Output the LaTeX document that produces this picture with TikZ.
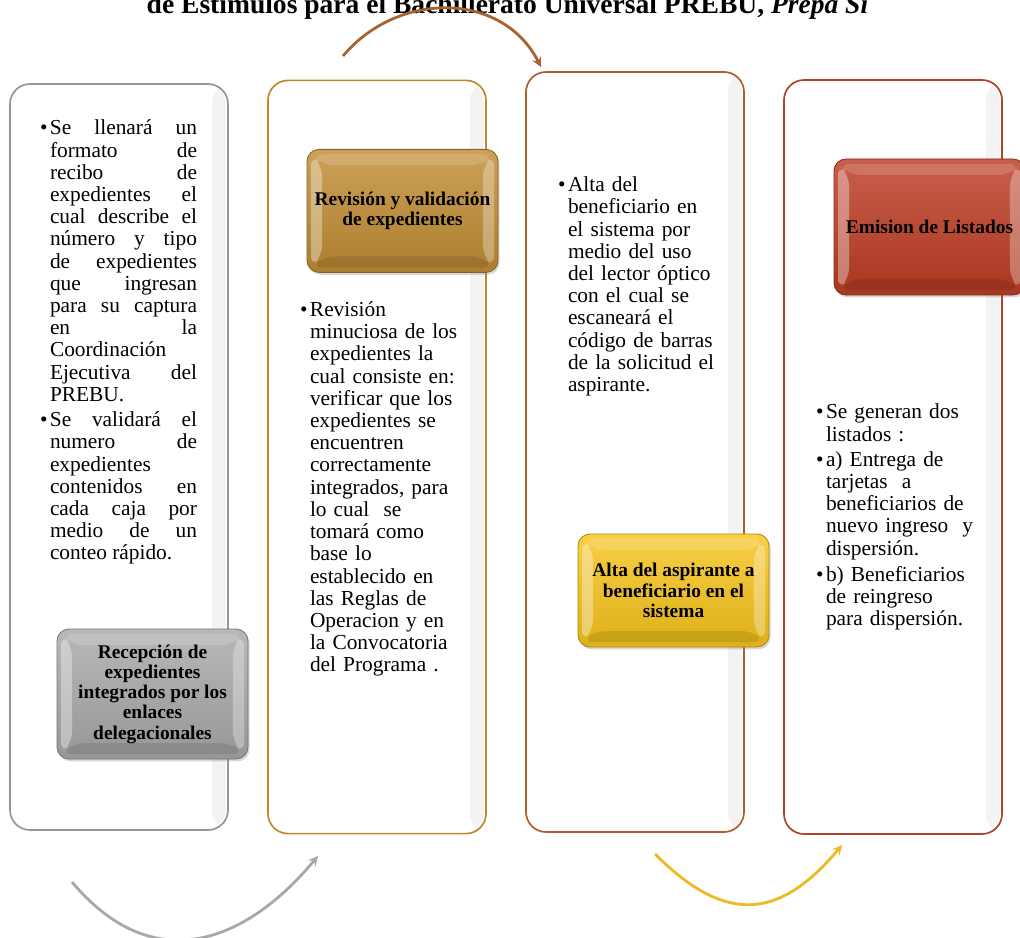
\documentclass[tikz,border=0pt]{standalone}
\usepackage{fontspec}
\setmainfont{Liberation Serif}
\usepackage{graphicx}
\usetikzlibrary{positioning,calc,shadows}
\definecolor{prebugray}{RGB}{150,150,150}
\definecolor{prebugold}{RGB}{188,138,45}
\definecolor{prebubrown}{RGB}{172,95,45}
\definecolor{prebured}{RGB}{172,68,42}
\definecolor{taggray}{RGB}{168,168,168}
\definecolor{taggold}{RGB}{192,140,52}
\definecolor{tagyellow}{RGB}{246,196,28}
\definecolor{tagred}{RGB}{188,60,36}
\definecolor{arrowbrown}{RGB}{165,100,50}
\definecolor{arrowgray}{RGB}{168,168,168}
\definecolor{arrowyellow}{RGB}{236,186,36}
\newcommand{\itm}{\noindent\llap{\textbullet\hspace{0.06cm}}}
\newcommand{\bevel}{%
  \coordinate (bsw) at (path picture bounding box.south west);
  \coordinate (bne) at (path picture bounding box.north east);
  \fill[white, opacity=0.35] ($(bsw)+(0.1,0.12)$) -- ($(bsw|-bne)+(0.1,-0.12)$) -- ($(bsw|-bne)+(0.38,-0.4)$) -- ($(bsw)+(0.38,0.4)$) -- cycle;
  \fill[white, opacity=0.3] ($(bne|-bsw)+(-0.1,0.12)$) -- ($(bne)+(-0.1,-0.12)$) -- ($(bne)+(-0.38,-0.4)$) -- ($(bne|-bsw)+(-0.38,0.4)$) -- cycle;
  \fill[white, opacity=0.15] ($(bsw|-bne)+(0.1,-0.12)$) -- ($(bne)+(-0.1,-0.12)$) -- ($(bne)+(-0.38,-0.4)$) -- ($(bsw|-bne)+(0.38,-0.4)$) -- cycle;
  \fill[black, opacity=0.1] ($(bsw)+(0.1,0.12)$) -- ($(bne|-bsw)+(-0.1,0.12)$) -- ($(bne|-bsw)+(-0.38,0.4)$) -- ($(bsw)+(0.38,0.4)$) -- cycle;}
\tolerance=10000
\hbadness=10000
\hyphenpenalty=10000

\begin{document}
\begin{tikzpicture}[
  panel/.style={rectangle, rounded corners=0.5cm, draw=#1, line width=1.2pt, fill=white,
               minimum width=5.45cm, outer sep=0pt,
               path picture={\shade[left color=white, right color=black!5]
                 ([xshift=-0.4cm]path picture bounding box.south east) rectangle
                 ([xshift=-0.06cm]path picture bounding box.north east);}},
  badge/.style={rectangle, rounded corners=0.3cm, draw=#1!70!black, line width=0.6pt,
               top color=#1!82!white, bottom color=#1!90!black, minimum width=4.775cm,
               align=center, outer sep=0pt, inner sep=2pt,
               font=\fontsize{13.8}{14.4}\selectfont\bfseries,
               drop shadow={opacity=0.3, shadow xshift=0.04cm, shadow yshift=-0.06cm},
               path picture={\bevel}},
  note/.style={anchor=north west, inner sep=0pt, outer sep=0pt, text width=#1,
               font=\fontsize{15.2}{15.8}\selectfont},
  flow/.style={draw=#1, line width=2pt, -stealth}
]
\useasboundingbox (0,0) rectangle (25.5,-23.45);
\clip (0,0) rectangle (25.5,-23.45);

\node[anchor=base] (title) at (12.71,-0.35)
  {\resizebox{18.08cm}{!}{\bfseries de Estímulos para el Bachillerato Universal PREBU, \textit{Prepa Sí}}};

% columns
\node[panel=prebugray, minimum height=18.65cm] (rec) at (2.975,-11.425) {};
\node[panel=prebugold, minimum height=18.83cm, right=1cm of rec] (rev) {};
\node[panel=prebubrown, minimum height=19cm, right=1cm of rev, yshift=0.125cm] (alta) {};
\node[panel=prebured, minimum height=18.85cm, right=1cm of alta, yshift=-0.125cm] (emi) {};

% texts
\node[note=3.675cm, align=justify, below right=0.9cm and 1.0cm of rec.north west] (recnote)
  {\itm Se llenará un\linebreak formato de\linebreak recibo de\linebreak expedientes el\linebreak
   cual describe el\linebreak número y tipo\linebreak de expedientes\linebreak que ingresan\linebreak
   para su captura\linebreak en la\linebreak Coordinación\linebreak Ejecutiva del\linebreak PREBU.\\[0.075cm]
   \itm Se validará el\linebreak numero de\linebreak expedientes\linebreak contenidos en\linebreak
   cada caja por\linebreak medio de un\linebreak conteo rápido.};
\node[note=4.3cm, align=left, below right=5.53cm and 1.05cm of rev.north west] (revnote)
  {\itm Revisión\\ minuciosa de los\\ expedientes la\\ cual consiste en:\\ verificar que los\\
   expedientes se\\ encuentren\\ correctamente\\ integrados, para\\ lo cual\ \ se\\ tomará como\\
   base lo\\ establecido en\\ las Reglas de\\ Operacion y en\\ la Convocatoria\\ del Programa .};
\node[note=4.3cm, align=left, below right=2.62cm and 1.05cm of alta.north west] (altanote)
  {\itm Alta del\\ beneficiario en\\ el sistema por\\ medio del uso\\ del lector óptico\\
   con el cual se\\ escaneará el\\ código de barras\\ de la solicitud el\\ aspirante.};
\node[note=4.3cm, align=left, below right=8.1cm and 1.05cm of emi.north west] (eminote)
  {\itm Se generan dos\\ listados :\\[0.075cm]
   \itm a) Entrega de\\ tarjetas\ \ a\\ beneficiarios de\\ nuevo ingreso\ \ y\\ dispersión.\\[0.1cm]
   \itm b) Beneficiarios\\ de reingreso\\ para dispersión.};

% step labels
\node[badge=taggray, minimum height=3.25cm, below right=13.625cm and 1.175cm of rec.north west] (rectag)
  {Recepción de\\ expedientes\\ integrados por los\\ enlaces\\ delegacionales};
\node[badge=taggold, minimum height=3.075cm, below right=1.725cm and 0.975cm of rev.north west] (revtag)
  {Revisión y validación\\ de expedientes};
\node[badge=tagyellow, minimum height=2.825cm, below right=11.55cm and 1.3cm of alta.north west] (altatag)
  {Alta del aspirante a\\ beneficiario en el\\ sistema};
\node[badge=tagred, minimum height=3.4cm, below right=1.975cm and 1.25cm of emi.north west] (emitag)
  {Emision de Listados};

% curved arrows
\coordinate (topA) at (8.575,-1.4);
\coordinate (topB) at (13.525,-1.675);
\coordinate (lowA) at (1.8,-22.05);
\coordinate (lowB) at (7.95,-21.4);
\coordinate (yelA) at (16.375,-21.35);
\coordinate (yelB) at (21.05,-21.125);
\draw[flow=arrowbrown] (topA) to[out=50, in=117, looseness=1.1] (topB);
\draw[flow=arrowgray] (lowA) to[out=-50, in=-130, looseness=1.25] (lowB);
\draw[flow=arrowyellow] (yelA) to[out=-45, in=-130, looseness=1.35] (yelB);
\end{tikzpicture}
\end{document}
